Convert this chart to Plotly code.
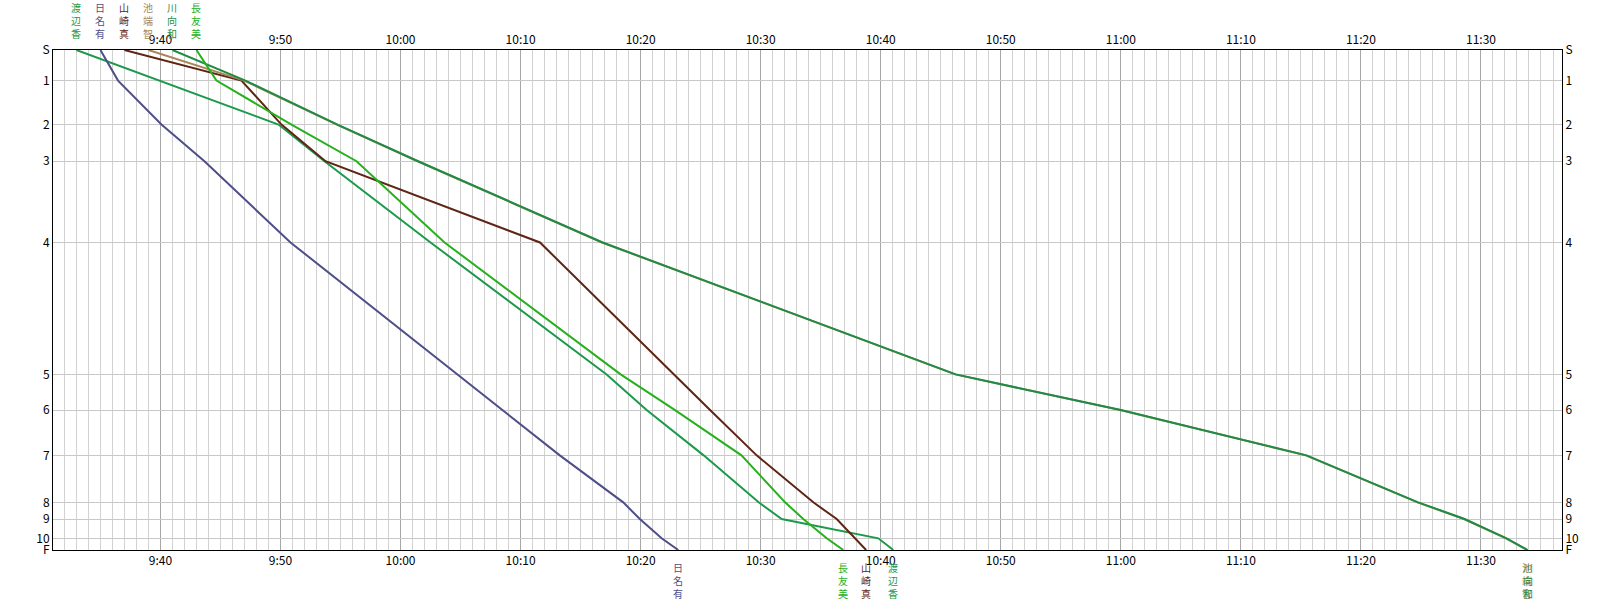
import plotly.graph_objects as go

# ---- data ----
control_labels = ["S", "1", "2", "3", "4", "5", "6", "7", "8", "9", "10", "F"]
# cumulative course distance at each control (m, estimated from row spacing)
control_dist = [0, 306, 746, 1113, 1926, 3246, 3603, 4056, 4526, 4693, 4886, 5003]

runner_names = ["渡辺香", "日名有", "山崎真", "池端智", "川向和", "長友美"]

watanabe = ["9:33:00", "9:39:55", "9:49:50", "9:53:40", "10:02:30", "10:17:10",
            "10:20:30", "10:25:15", "10:29:50", "10:31:45", "10:39:48", "10:41:03"]
hina = ["9:35:00", "9:36:28", "9:40:05", "9:43:40", "9:50:50", "10:04:45",
        "10:08:35", "10:13:16", "10:18:33", "10:19:56", "10:21:45", "10:23:08"]
yamazaki = ["9:37:00", "9:46:45", "9:50:05", "9:53:45", "10:11:37", "10:22:43",
            "10:25:47", "10:29:40", "10:34:23", "10:36:20", "10:37:52", "10:38:47"]
ikehata = ["9:39:00", "9:46:58", "9:54:42", "10:01:25", "10:16:47", "10:46:12",
           "10:59:57", "11:15:25", "11:24:43", "11:28:35", "11:32:05", "11:33:51"]
kawamukai = ["9:41:00", "9:47:05", "9:54:45", "10:01:28", "10:16:50", "10:46:15",
             "11:00:00", "11:15:28", "11:24:46", "11:28:38", "11:32:08", "11:33:53"]
nagatomo = ["9:43:00", "9:44:40", "9:50:55", "9:56:20", "10:03:40", "10:18:20",
            "10:22:52", "10:28:24", "10:32:02", "10:33:33", "10:35:30", "10:36:53"]

runner_times = [watanabe, hina, yamazaki, ikehata, kawamukai, nagatomo]
runner_colors = ["#1b9a4a", "#4e4e88", "#5e2414", "#a88658", "#1e8c44", "#26b01c"]

DAY = "2024-01-01 "


def ts(t):
    h, m, s = t.split(":")
    return f"{DAY}{int(h):02d}:{m}:{s}"


x_start = "9:31:03"
x_end = "11:36:45"

fig = go.Figure()

# ikehata is drawn before kawamukai so the green covers the tan line
for i in range(len(runner_names)):
    fig.add_trace(go.Scatter(
        x=[ts(t) for t in runner_times[i]],
        y=control_dist,
        mode="lines",
        line=dict(color=runner_colors[i], width=2),
        name=runner_names[i],
        showlegend=False,
        hoverinfo="skip",
    ))

# invisible trace for the mirrored (top / right) axes
fig.add_trace(go.Scatter(x=[ts(x_start)], y=[0], xaxis="x2", yaxis="y2",
                         mode="markers", marker=dict(opacity=0), showlegend=False,
                         hoverinfo="skip"))

W, H = 1613, 600
ml, mr, mt, mb = 53, 51, 50, 50
plot_h = H - mt - mb


def paper_y(px):
    return (H - mb - px) / plot_h


font_main = "Noto Sans CJK JP"
annotations = []
for i, name in enumerate(runner_names):
    times = runner_times[i]
    vtext = "<br>".join(list(name))
    annotations.append(dict(
        x=ts(times[0]), xref="x", y=paper_y(20.5), yref="paper",
        text=vtext, showarrow=False, xanchor="center", yanchor="middle",
        align="center",
        font=dict(family=font_main, size=10, color=runner_colors[i])))
    annotations.append(dict(
        x=ts(times[-1]), xref="x", y=paper_y(580.5), yref="paper",
        text=vtext, showarrow=False, xanchor="center", yanchor="middle",
        align="center",
        font=dict(family=font_main, size=10, color=runner_colors[i])))

xcommon = dict(
    type="date",
    range=[ts(x_start), ts(x_end)],
    tick0=DAY + "09:00:00",
    dtick=600000,
    tickformat="%-H:%M",
    ticks="",
    showline=True, linecolor="black", linewidth=1,
    tickfont=dict(family=font_main, size=12, color="black"),
    zeroline=False,
    fixedrange=True,
)
ycommon = dict(
    range=[control_dist[-1], control_dist[0]],
    tickmode="array",
    tickvals=control_dist,
    ticktext=control_labels,
    ticks="",
    showline=True, linecolor="black", linewidth=1,
    tickfont=dict(family=font_main, size=12, color="black"),
    zeroline=False,
    fixedrange=True,
)

fig.update_layout(
    width=W, height=H,
    margin=dict(l=ml, r=mr, t=mt, b=mb, pad=0),
    paper_bgcolor="white",
    plot_bgcolor="white",
    xaxis=dict(**xcommon, side="bottom", showgrid=True, gridcolor="#a6a6a6", gridwidth=1,
               minor=dict(dtick=60000, showgrid=True, gridcolor="#d2d2d2", gridwidth=1)),
    xaxis2=dict(**xcommon, side="top", overlaying="x", matches="x", showgrid=False),
    yaxis=dict(**ycommon, side="left", showgrid=True, gridcolor="#c8c8c8", gridwidth=1),
    yaxis2=dict(**ycommon, side="right", overlaying="y", matches="y", showgrid=False),
    annotations=annotations,
    showlegend=False,
)

fig.write_html(
    "out.html",
    config={"displayModeBar": False},
    post_script="document.body.style.margin='0px';document.body.style.overflow='hidden';",
)
